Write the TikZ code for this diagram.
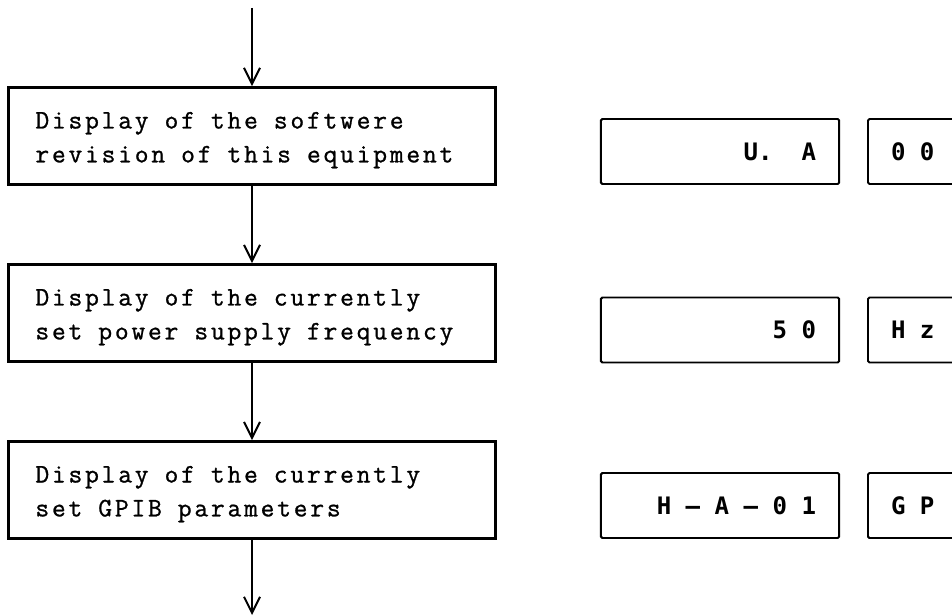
\documentclass[tikz,border=0pt]{standalone}
\usepackage{fontspec}
\newfontfamily\typefont{Latin Modern Mono}[LetterSpace=10.5,FakeBold=1]
\newfontfamily\lcdfont{DejaVu Sans Mono}
\usetikzlibrary{arrows.meta}
\protected\def\stepfont{\typefont\fontsize{19}{24.1}\selectfont}
\protected\def\dispfont{\lcdfont\bfseries\fontsize{17.1}{20}\selectfont}

\begin{document}
\begin{tikzpicture}[x=0.025cm,y=-0.025cm,
		stepbox/.style={draw,line width=2pt,minimum height=2.425cm,text width=10.825cm,inner xsep=0.675cm,inner ysep=0pt,text height=0.35cm,text depth=0.725cm,align=left,font=\stepfont,execute at begin node={\spaceskip=0.6em\relax}},
		disp/.style={draw,line width=1.4pt,rounded corners=1pt,minimum height=1.625cm,text width=4.8cm,inner xsep=0.575cm,inner ysep=0pt,align=right,font=\dispfont,execute at begin node={\spaceskip=0.602em\relax}},
		unitbox/.style={disp,text width=2.1cm,align=left},
		flow/.style={line width=1.4pt,-{Straight Barb[length=0.4cm,width=0.4cm,line width=1.4pt]}}]
				\clip (0,0) rectangle (952,616);
				
				\coordinate (in) at (252,8);
				\node[stepbox] (s1) at (252,136) {Display of the softwere\\revision of this equipment};
				\node[stepbox] (s2) at (252,313) {Display of the currently\\set power supply frequency};
				\node[stepbox] (s3) at (252,490) {Display of the currently\\set GPIB parameters};
				\coordinate (out) at (252,615);
				
				\draw[flow] (in) -- (s1);
				\draw[flow] (s1) -- (s2);
				\draw[flow] (s2) -- (s3);
				\draw[flow] (s3) -- (out);
				
				\node[disp] (d1) at (720,151.5) {U.\ \ A};
				\node[unitbox] (u1) at (933,151.5) {0 0};
				
				\node[disp] (d2) at (720,330) {5 0};
				\node[unitbox] (u2) at (933,330) {H z};
				
				\node[disp] (d3) at (720,505.5) {H – A – 0 1};
				\node[unitbox] (u3) at (933,505.5) {G P};
			\end{tikzpicture}
\end{document}
